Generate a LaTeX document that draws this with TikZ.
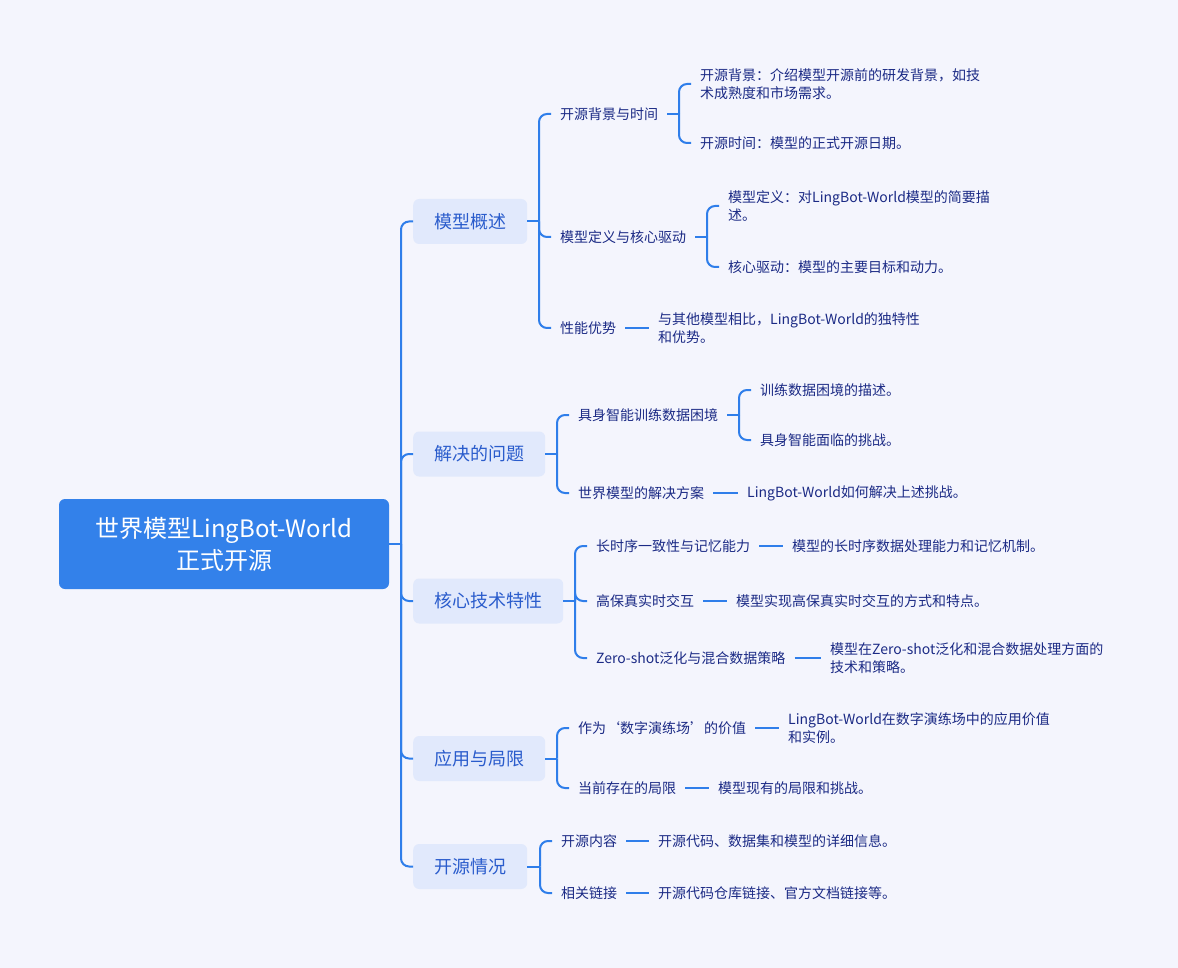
\documentclass[tikz,border=0pt]{standalone}
\usepackage{fontspec}
\setmainfont{Noto Sans CJK SC}
\usetikzlibrary{calc}
\definecolor{bgc}{HTML}{F4F5FD}
\definecolor{rootc}{HTML}{3381EA}
\definecolor{lvonec}{HTML}{E1E9FC}
\definecolor{lvonet}{HTML}{2A5CCC}
\definecolor{txtc}{HTML}{1B2A85}
\definecolor{linec}{HTML}{2F7EEA}
\tikzset{
  rootbox/.style={fill=rootc, rounded corners=6pt, text=white, minimum width=330pt, minimum height=90pt, align=center, font=\fontsize{24}{32}\selectfont, inner sep=0pt},
  lvone/.style={fill=lvonec, rounded corners=6pt, text=lvonet, minimum height=45pt, inner xsep=21pt, inner ysep=0pt, anchor=west, font=\fontsize{18}{22}\selectfont},
  lvtwo/.style={text=txtc, inner xsep=9pt, inner ysep=2pt, anchor=west, align=left, font=\fontsize{14}{18}\selectfont},
  conn/.style={draw=linec, line width=2pt, rounded corners=8pt},
}
\begin{document}
\begin{tikzpicture}[x=1pt,y=-1pt]
\useasboundingbox (0,0) rectangle (1178,968);
\fill[bgc] (0,0) rectangle (1178,968);

% root
\node[rootbox] (root) at (224,544) {世界模型LingBot-World\\正式开源};

% level 1
\node[lvone] (k1) at (413,221.5) {模型概述};
\node[lvone] (k2) at (413,454) {解决的问题};
\node[lvone] (k3) at (413,601) {核心技术特性};
\node[lvone] (k4) at (413,758.5) {应用与局限};
\node[lvone] (k5) at (413,866.5) {开源情况};

% level 2
\node[lvtwo] (a1) at (551,114) {开源背景与时间};
\node[lvtwo] (a2) at (551,237) {模型定义与核心驱动};
\node[lvtwo] (a3) at (551,328) {性能优势};
\node[lvtwo] (b1) at (569,415) {具身智能训练数据困境};
\node[lvtwo] (b2) at (569,493) {世界模型的解决方案};
\node[lvtwo] (c1) at (587,546) {长时序一致性与记忆能力};
\node[lvtwo] (c2) at (587,601) {高保真实时交互};
\node[lvtwo] (c3) at (587,658) {Zero-shot泛化与混合数据策略};
\node[lvtwo] (d1) at (569,728) {作为‘数字演练场’的价值};
\node[lvtwo] (d2) at (569,788) {当前存在的局限};
\node[lvtwo] (e1) at (552,841) {开源内容};
\node[lvtwo] (e2) at (552,893) {相关链接};

% level 3
\node[lvtwo] (a11) at (691,84) {开源背景：介绍模型开源前的研发背景，如技\\术成熟度和市场需求。};
\node[lvtwo] (a12) at (691,143) {开源时间：模型的正式开源日期。};
\node[lvtwo] (a21) at (719,206) {模型定义：对LingBot-World模型的简要描\\述。};
\node[lvtwo] (a22) at (719,267) {核心驱动：模型的主要目标和动力。};
\node[lvtwo] (a31) at (649,328) {与其他模型相比，LingBot-World的独特性\\和优势。};
\node[lvtwo] (b11) at (751,390) {训练数据困境的描述。};
\node[lvtwo] (b12) at (751,440) {具身智能面临的挑战。};
\node[lvtwo] (b21) at (738,493) {LingBot-World如何解决上述挑战。};
\node[lvtwo] (c11) at (783,546) {模型的长时序数据处理能力和记忆机制。};
\node[lvtwo] (c21) at (727,601) {模型实现高保真实时交互的方式和特点。};
\node[lvtwo] (c31) at (821,658) {模型在Zero-shot泛化和混合数据处理方面的\\技术和策略。};
\node[lvtwo] (d11) at (779,728) {LingBot-World在数字演练场中的应用价值\\和实例。};
\node[lvtwo] (d21) at (709,788) {模型现有的局限和挑战。};
\node[lvtwo] (e11) at (649,841) {开源代码、数据集和模型的详细信息。};
\node[lvtwo] (e21) at (649,893) {开源代码仓库链接、官方文档链接等。};

% bracket x positions
\coordinate (jr) at (401,0);
\coordinate (j1) at (539,0);
\coordinate (j2) at (557,0);
\coordinate (j3) at (575,0);
\coordinate (j4) at (557,0);
\coordinate (j5) at (540,0);
\coordinate (ja1) at (679,0);
\coordinate (ja2) at (707,0);
\coordinate (jb1) at (739,0);

% trunk
\draw[conn] (root.east) -- (root.east -| jr);
\foreach \k in {k1,k2,k3,k4,k5}{
  \draw[conn] (root.east -| jr) -- (\k.west -| jr) -- (\k.west);
}

% level 1 -> level 2
\draw[conn] (k1.east) -- (k1.east -| j1);
\foreach \c in {a1,a2,a3}{\draw[conn] (k1.east -| j1) -- (\c.west -| j1) -- (\c.west);}
\draw[conn] (k2.east) -- (k2.east -| j2);
\foreach \c in {b1,b2}{\draw[conn] (k2.east -| j2) -- (\c.west -| j2) -- (\c.west);}
\draw[conn] (k3.east) -- (k3.east -| j3);
\foreach \c in {c1,c2,c3}{\draw[conn] (k3.east -| j3) -- (\c.west -| j3) -- (\c.west);}
\draw[conn] (k4.east) -- (k4.east -| j4);
\foreach \c in {d1,d2}{\draw[conn] (k4.east -| j4) -- (\c.west -| j4) -- (\c.west);}
\draw[conn] (k5.east) -- (k5.east -| j5);
\foreach \c in {e1,e2}{\draw[conn] (k5.east -| j5) -- (\c.west -| j5) -- (\c.west);}

% level 2 -> level 3
\draw[conn] (a1.east) -- (a1.east -| ja1);
\foreach \c in {a11,a12}{\draw[conn] (a1.east -| ja1) -- (\c.west -| ja1) -- (\c.west);}
\draw[conn] (a2.east) -- (a2.east -| ja2);
\foreach \c in {a21,a22}{\draw[conn] (a2.east -| ja2) -- (\c.west -| ja2) -- (\c.west);}
\draw[conn] (b1.east) -- (b1.east -| jb1);
\foreach \c in {b11,b12}{\draw[conn] (b1.east -| jb1) -- (\c.west -| jb1) -- (\c.west);}
\draw[conn] (a3.east) -- (a31.west);
\draw[conn] (b2.east) -- (b21.west);
\draw[conn] (c1.east) -- (c11.west);
\draw[conn] (c2.east) -- (c21.west);
\draw[conn] (c3.east) -- (c31.west);
\draw[conn] (d1.east) -- (d11.west);
\draw[conn] (d2.east) -- (d21.west);
\draw[conn] (e1.east) -- (e11.west);
\draw[conn] (e2.east) -- (e21.west);
\end{tikzpicture}
\end{document}
